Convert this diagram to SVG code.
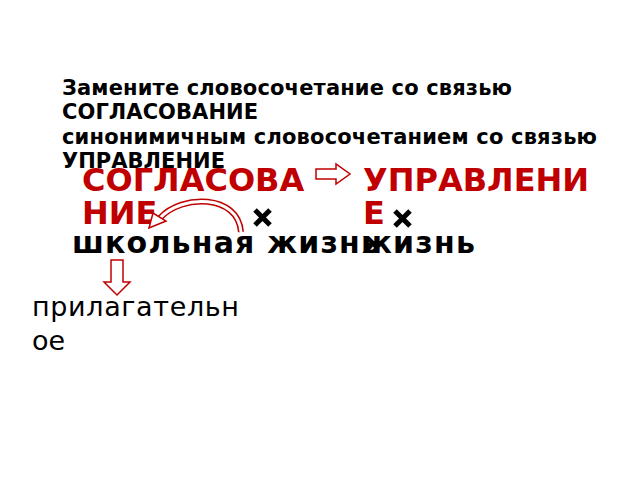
<svg xmlns="http://www.w3.org/2000/svg" width="640" height="480" viewBox="0 0 640 480">
<style>
.hdr{font-family:"DejaVu Sans",sans-serif;font-weight:bold;font-size:21px;fill:#000}
.red{font-family:"DejaVu Sans",sans-serif;font-weight:bold;font-size:32px;fill:#C00000}
.blk{font-family:"DejaVu Sans",sans-serif;font-weight:bold;font-size:30px;fill:#000}
.reg{font-family:"DejaVu Sans",sans-serif;font-size:27px;fill:#000}
.harrow{fill:#fff;stroke:#C00000;stroke-width:1.5}
.cross{stroke:#000;stroke-width:5;stroke-linecap:butt}
</style>
<rect width="640" height="480" fill="#fff"/>
<g id="task">
<text class="hdr" x="62" y="95" textLength="450">Замените словосочетание со связью</text>
<text class="hdr" x="62" y="119" textLength="196">СОГЛАСОВАНИЕ</text>
<text class="hdr" x="62" y="144" textLength="535">синонимичным словосочетанием со связью</text>
<text class="hdr" x="62" y="168" textLength="163">УПРАВЛЕНИЕ</text>
</g>
<g id="soglasovanie">
<text class="red" x="82" y="191">СОГЛАСОВА</text>
<text class="red" x="82" y="224">НИЕ</text>
</g>
<g id="upravlenie">
<text class="red" x="363" y="191">УПРАВЛЕНИ</text>
<text class="red" x="363" y="224">Е</text>
</g>
<g id="phrase">
<text class="blk" x="72" y="253" textLength="308">школьная жизнь</text>
</g>
<g id="zhizn">
<text class="blk" x="362" y="253" textLength="113">жизнь</text>
</g>
<g id="adj">
<text class="reg" x="32" y="316" textLength="207">прилагательн</text>
<text class="reg" x="32" y="350">ое</text>
</g>
<g id="connectors">
<polygon class="harrow" points="316,169 336,169 336,164 350,174 336,184 336,179 316,179"/>
<path d="M241,232 C238,194 182,194 160,218" fill="none" stroke="#C00000" stroke-width="6"/>
<path d="M241,232 C238,194 182,194 160,218" fill="none" stroke="#fff" stroke-width="3"/>
<polygon class="harrow" points="149,228 153,213 166,221"/>
<polygon class="harrow" points="111,260 123,260 123,282 130,282 117,295 104,282 111,282"/>
</g>
<g id="crosses">
<path class="cross" d="M255,210 L270,225 M270,210 L255,225"/>
<path class="cross" d="M395,211 L410,226 M410,211 L395,226"/>
</g>
</svg>
